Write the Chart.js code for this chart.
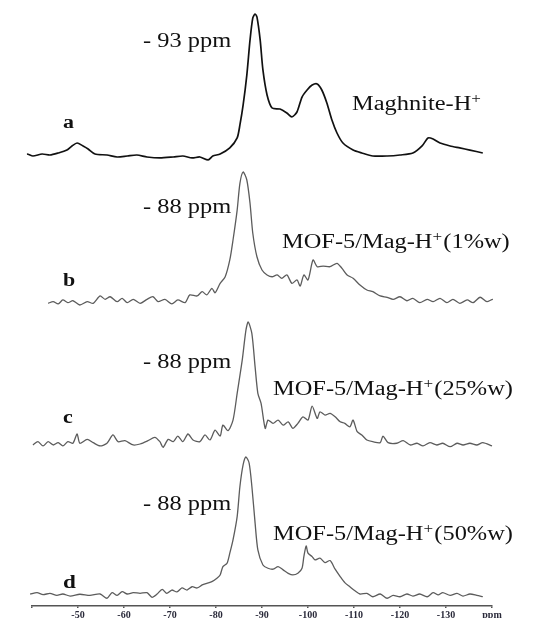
<!DOCTYPE html>
<html>
<head>
<meta charset="utf-8">
<script src="https://cdn.jsdelivr.net/npm/chart.js@4.4.1/dist/chart.umd.min.js"></script>
<style>
  html, body { margin: 0; padding: 0; background: #fff; }
  canvas { display: block; }
</style>
</head>
<body>
<canvas id="nmrChart" width="536" height="618"></canvas>
<script>
// chemical shift axis (shown as negative ppm)
let xTicks = [40, 50, 60, 70, 80, 90, 100, 110, 120, 130, 140];
let xTickLabels = ["", "-50", "-60", "-70", "-80", "-90", "-100", "-110", "-120", "-130", "ppm"];

// a : Maghnite-H+
let ppmA = [35.7, 38.9, 40.2, 42.2, 43.9, 45.7, 47.6, 48.7, 49.8, 51.1, 52.2, 53.7, 56.3, 58.5, 60.7, 62.8, 65.0, 67.8, 70.7, 72.8, 74.8, 76.5, 78.3, 79.3, 80.9, 83.0, 84.6, 85.2, 85.9, 86.7, 87.4, 88.0, 88.5, 88.9, 89.6, 90.2, 91.1, 92.2, 93.9, 95.4, 96.5, 97.6, 98.7, 99.8, 100.9, 102.0, 103.0, 104.1, 105.2, 106.3, 107.6, 109.8, 111.7, 114.1, 117.2, 120.0, 122.8, 124.8, 126.1, 127.2, 128.7, 130.9, 133.0, 135.2, 138.0];
let intA = [-0.7, 0.7, -0.7, 0.7, 0, 1.4, 3.5, 6.4, 8.5, 6.4, 4.3, 0.7, 0, -1.4, -0.7, 0, -1.4, -2.1, -1.4, -0.7, -2.1, -1.4, -3.5, -0.7, 0.7, 5.0, 12.1, 21.3, 35.5, 56.7, 81.6, 97.2, 100, 97.9, 81.6, 60.3, 42.6, 33.3, 32.6, 29.8, 27.0, 30.5, 41.1, 46.1, 49.6, 50.4, 46.1, 36.9, 24.8, 15.6, 8.5, 3.5, 1.4, -0.7, -0.7, 0, 1.4, 6.4, 12.1, 11.3, 8.5, 6.4, 5.0, 3.5, 1.4];

// b : MOF-5/Mag-H+ (1%w)
let ppmB = [43.5, 44.6, 45.7, 46.7, 47.8, 48.9, 50.4, 52.0, 53.3, 54.8, 55.9, 57.0, 58.5, 59.6, 60.7, 62.0, 63.5, 65.0, 66.3, 67.4, 68.9, 70.4, 71.7, 73.3, 74.3, 75.9, 77.0, 78.0, 79.1, 79.8, 80.9, 82.0, 83.0, 83.7, 84.6, 85.2, 85.9, 86.7, 87.4, 88.0, 88.9, 90.0, 91.1, 92.2, 93.3, 94.3, 95.4, 96.5, 97.6, 98.3, 99.1, 100.0, 101.1, 102.0, 103.3, 104.8, 106.3, 107.4, 108.5, 109.8, 111.3, 112.8, 114.1, 115.7, 117.2, 118.5, 120.0, 121.5, 122.8, 124.3, 125.9, 127.2, 128.7, 130.2, 131.5, 133.0, 134.6, 135.9, 137.4, 138.9, 140.2, 141.7, 143.3, 145.0];
let intB = [-1.8, -0.5, -2.3, 0.8, -1.3, 0.2, -3.1, -0.5, -1.8, 3.9, 1.3, 3.3, -0.5, 2.1, -1.3, 1.3, -1.8, 1.3, 3.3, -0.5, 1.3, -2.3, 0.8, -1.3, 4.7, 3.9, 7.2, 4.7, 9.8, 6.4, 13.7, 18.8, 31.8, 47.3, 70.5, 91.2, 100, 93.8, 75.7, 52.5, 34.3, 24.0, 20.2, 18.8, 20.2, 17.6, 20.2, 13.7, 16.3, 11.6, 20.2, 16.3, 31.8, 26.6, 27.1, 26.6, 29.2, 25.3, 20.2, 17.6, 12.4, 8.5, 7.2, 3.9, 2.9, 1.3, 3.3, 0.2, 2.1, -1.3, 1.3, -0.5, 2.1, -1.3, 1.3, -1.8, 0.8, -1.3, 2.9, -0.5, 1.3, -1.3, 0.8, -0.5];

// c : MOF-5/Mag-H+ (25%w)
let ppmC = [40.2, 41.3, 42.4, 43.5, 44.6, 45.7, 46.7, 47.8, 48.9, 49.8, 50.4, 52.0, 53.3, 54.8, 56.3, 57.6, 58.7, 60.2, 62.0, 63.5, 65.2, 66.7, 67.8, 68.5, 69.6, 70.7, 71.7, 72.8, 73.9, 75.0, 76.5, 77.6, 78.7, 79.8, 80.9, 81.5, 82.6, 83.7, 84.6, 85.7, 86.5, 87.0, 87.8, 88.5, 89.1, 89.8, 90.7, 91.3, 92.4, 93.5, 94.6, 95.7, 96.7, 97.8, 98.9, 100.0, 100.9, 102.0, 102.6, 103.7, 104.8, 105.9, 107.0, 108.0, 109.1, 109.8, 110.7, 111.7, 112.8, 114.1, 115.7, 116.3, 117.4, 119.3, 120.7, 122.2, 123.7, 125.0, 126.5, 128.0, 129.3, 130.9, 132.4, 133.7, 135.2, 136.7, 138.0, 140.0];
let intC = [-0.8, 1.9, -1.6, 1.9, -0.8, 1.1, -1.6, 1.9, 0.6, 8.2, 0.6, 3.8, 1.1, -1.6, 0.6, 7.4, 1.9, 2.7, -0.8, 0, 2.7, 5.5, 1.9, -2.7, 3.8, 1.9, 6.5, 1.9, 8.2, 3.3, 1.9, 7.4, 3.3, 11.4, 6.5, 15.5, 10.9, 19.6, 41.5, 68.7, 93.2, 100, 90.5, 63.2, 41.5, 33.3, 12.8, 19.6, 16.9, 19.6, 15.5, 18.2, 12.8, 16.9, 22.3, 19.6, 31.1, 21.0, 26.4, 23.7, 25.1, 22.3, 18.2, 16.9, 14.1, 19.6, 10.1, 7.4, 3.3, 1.9, 1.1, 6.5, 1.1, 0.6, 2.7, -0.8, 0.6, -1.6, 1.1, -0.8, 0.6, -2.2, 0.6, -0.8, 0.6, -0.8, 1.1, -1.6];

// d : MOF-5/Mag-H+ (50%w)
let ppmD = [39.6, 41.1, 42.4, 43.9, 45.4, 46.7, 48.3, 50.4, 52.6, 54.8, 56.3, 57.4, 58.5, 59.6, 60.7, 62.0, 63.5, 65.0, 66.1, 67.2, 68.3, 69.3, 70.4, 71.5, 72.6, 73.7, 74.8, 75.9, 77.0, 78.0, 79.1, 80.2, 80.9, 81.5, 82.4, 83.0, 83.7, 84.6, 85.2, 85.9, 86.5, 87.2, 87.8, 88.5, 89.1, 90.2, 91.3, 92.4, 93.5, 94.6, 95.7, 96.7, 97.8, 98.7, 99.1, 99.6, 100.0, 100.9, 101.5, 102.6, 103.7, 104.8, 105.9, 107.0, 108.0, 109.1, 110.2, 111.3, 112.8, 114.1, 115.7, 117.2, 118.5, 120.0, 121.5, 122.8, 124.3, 125.9, 127.2, 128.3, 129.3, 130.9, 132.4, 133.7, 135.2, 136.7, 138.0];
let intD = [0, 1.0, -0.5, 0.5, -1.0, 0, -1.5, -0.2, -1.0, 0, -3.1, 1.0, -1.0, 1.7, 0, 1.0, 0.5, 1.0, -2.4, 0, 3.4, 0.5, 2.9, 1.5, 4.4, 2.9, 5.3, 4.4, 6.6, 7.8, 9.0, 11.5, 13.9, 20.0, 22.5, 29.8, 39.5, 56.5, 78.5, 94.4, 100, 95.6, 78.5, 51.7, 32.2, 21.2, 18.8, 18.1, 20.0, 17.6, 15.1, 13.9, 15.1, 18.8, 27.3, 35.1, 29.8, 27.3, 24.9, 26.1, 22.9, 24.4, 18.1, 12.7, 8.3, 5.3, 2.4, 0, 0.5, -2.0, 0, -3.1, -1.0, -2.0, 0, -1.5, 0, -2.0, 1.0, -0.7, 1.0, -1.0, 0.5, -1.5, 0, -1.0, -2.0];

// layout of the stacked traces (pixels) - baseline and top of main peak
const AREA_TOP = 0;
const AREA_BOTTOM = 606;
const STRETCH = 1.22;
let panels = {
  ya: { base: 155, peak: 14 },
  yb: { base: 301, peak: 172 },
  yc: { base: 444, peak: 322 },
  yd: { base: 594, peak: 457 },
};

let notes = [
  { text: "- 93 ppm", x: 143, y: 47, size: 20 },
  { text: "Maghnite-H", sup: "+", tail: "", x: 352, y: 110, size: 20 },
  { text: "- 88 ppm", x: 143, y: 213, size: 20 },
  { text: "MOF-5/Mag-H", sup: "+", tail: "(1%w)", x: 282, y: 248, size: 20 },
  { text: "- 88 ppm", x: 143, y: 368, size: 20 },
  { text: "MOF-5/Mag-H", sup: "+", tail: "(25%w)", x: 273, y: 395, size: 20 },
  { text: "- 88 ppm", x: 143, y: 510, size: 20 },
  { text: "MOF-5/Mag-H", sup: "+", tail: "(50%w)", x: 273, y: 540, size: 20 },
  { text: "a", x: 63, y: 128, size: 18, bold: true },
  { text: "b", x: 63, y: 286, size: 18, bold: true },
  { text: "c", x: 63, y: 423, size: 18, bold: true },
  { text: "d", x: 63, y: 588, size: 19, bold: true },
];

function toPoints(xs, ys) {
  return xs.map((x, i) => ({ x: x, y: ys[i] }));
}

function yAxis(id) {
  let p = panels[id];
  let s = (p.base - p.peak) / 100;
  return {
    type: "linear",
    display: false,
    min: -(AREA_BOTTOM - p.base) / s,
    max: (p.base - AREA_TOP) / s,
  };
}

function trace(label, xs, ys, axis, color, width) {
  return {
    label: label,
    data: toPoints(xs, ys),
    yAxisID: axis,
    borderColor: color,
    borderWidth: width,
    pointRadius: 0,
    tension: 0.25,
    clip: false,
  };
}

const textPlugin = {
  id: "spectrumText",
  afterDraw(chart) {
    let ctx = chart.ctx;
    notes.forEach((n) => {
      ctx.save();
      ctx.translate(n.x, n.y);
      ctx.scale(STRETCH, 1);
      ctx.fillStyle = "#111";
      ctx.textBaseline = "alphabetic";
      ctx.textAlign = "left";
      let font = (n.bold ? "bold " : "") + n.size + 'px "Liberation Serif"';
      ctx.font = font;
      ctx.fillText(n.text, 0, 0);
      let w = ctx.measureText(n.text).width;
      if (n.sup) {
        ctx.font = '14px "Liberation Serif"';
        ctx.fillText(n.sup, w, -7);
        w += ctx.measureText(n.sup).width + 1;
      }
      if (n.tail) {
        ctx.font = font;
        ctx.fillText(n.tail, w, 0);
      }
      ctx.restore();
    });
  },
};

new Chart(document.getElementById("nmrChart"), {
  type: "line",
  data: {
    datasets: [
      trace("a", ppmA, intA, "ya", "#111", 1.7),
      trace("b", ppmB, intB, "yb", "#5c5c5c", 1.3),
      trace("c", ppmC, intC, "yc", "#5c5c5c", 1.3),
      trace("d", ppmD, intD, "yd", "#5c5c5c", 1.3),
    ],
  },
  options: {
    responsive: false,
    animation: false,
    layout: { padding: { top: AREA_TOP, bottom: 0, left: 32, right: 44 } },
    plugins: { legend: { display: false }, tooltip: { enabled: false } },
    scales: {
      x: {
        type: "linear",
        min: 40,
        max: 140,
        afterBuildTicks: (s) => {
          s.ticks = xTicks.map((v) => ({ value: v }));
        },
        afterFit: (s) => {
          s.height = 618 - AREA_BOTTOM;
        },
        ticks: {
          autoSkip: false,
          maxRotation: 0,
          padding: 1,
          color: "#2a2a3a",
          font: { family: "Liberation Serif", size: 10, weight: "bold" },
          callback: (v, i) => xTickLabels[i],
        },
        grid: { drawOnChartArea: false, drawTicks: true, tickLength: 2, color: "#555", lineWidth: 1.5 },
        border: { display: true, color: "#555", width: 1.5, dash: [1, 2] },
      },
      ya: yAxis("ya"),
      yb: yAxis("yb"),
      yc: yAxis("yc"),
      yd: yAxis("yd"),
    },
  },
  plugins: [textPlugin],
});
</script>
</body>
</html>
